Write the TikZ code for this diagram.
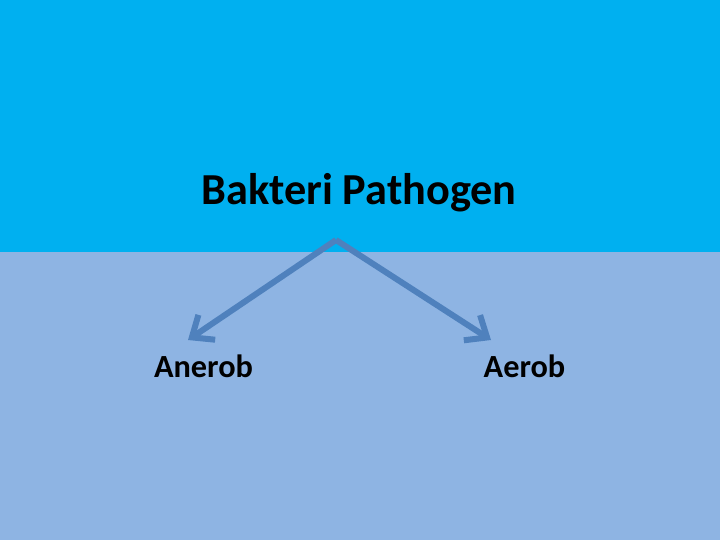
\documentclass[tikz,border=0pt]{standalone}
\usepackage{fontspec}
\setmainfont{Carlito}
\usetikzlibrary{arrows.meta}
\definecolor{topband}{HTML}{00B0F0}
\definecolor{lowband}{HTML}{8EB4E3}
\definecolor{arrowcol}{HTML}{4F81BD}
\begin{document}
\begin{tikzpicture}[x=1pt,y=-1pt,
  title/.style={font=\fontsize{44.3}{50}\selectfont\bfseries, anchor=base, inner sep=0pt},
  label/.style={font=\fontsize{32.3}{36}\selectfont\bfseries, anchor=base, inner sep=0pt},
  branch/.style={draw=arrowcol, line width=6pt, line join=round,
    -{Straight Barb[length=18pt,width=30pt,line width=6pt]}}]
  \useasboundingbox (0,0) rectangle (720,540);
  \fill[lowband] (0,0) rectangle (720,540);
  \fill[topband] (0,0) rectangle (720,252);
  \node[title] (root) at (359,205) {Bakteri Pathogen};
  \node[label] (an) at (203.5,377) {Anerob};
  \node[label] (ae) at (524.5,377) {Aerob};
  \coordinate (apex) at (336,240);
  \coordinate (lt) at (188,340);
  \coordinate (rt) at (491,340);
  \draw[branch] (apex) -- (lt);
  \draw[branch] (apex) -- (rt);
\end{tikzpicture}
\end{document}
